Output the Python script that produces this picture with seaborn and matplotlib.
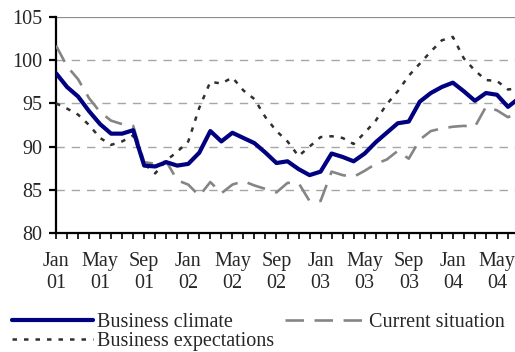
import matplotlib
matplotlib.use("Agg")
import matplotlib.pyplot as plt
import seaborn as sns
import pandas as pd
import numpy as np

# Monthly index values, Jan 2001 - Jul 2004
months = pd.date_range("2001-01-01", "2004-07-01", freq="MS")

business_climate = [
    98.5, 96.9, 95.8, 94.1, 92.6, 91.5, 91.5, 91.9, 87.8, 87.7, 88.2, 87.8,
    88.0, 89.3, 91.8, 90.6, 91.6, 91.0, 90.4, 89.3, 88.1, 88.3, 87.4, 86.7,
    87.1, 89.2, 88.8, 88.3, 89.2, 90.5, 91.6, 92.7, 92.9, 95.2, 96.2, 96.9,
    97.4, 96.4, 95.3, 96.2, 96.0, 94.6, 95.6,
]
current_situation = [
    101.7, 99.3, 97.8, 95.6, 94.0, 93.0, 92.6, 92.4, 88.2, 88.0, 88.3, 86.1,
    85.6, 84.3, 85.9, 84.6, 85.6, 86.0, 85.5, 85.1, 84.7, 85.8, 85.8, 83.7,
    83.7, 87.1, 86.7, 86.5, 87.2, 88.0, 88.5, 89.5, 88.6, 90.8, 91.8, 92.1,
    92.3, 92.4, 92.3, 94.6, 94.2, 93.4, 94.0,
]
business_expectations = [
    95.0, 94.4, 93.7, 92.5, 91.0, 90.2, 90.6, 91.3, 88.0, 86.9, 88.4, 89.4,
    90.6, 94.5, 97.5, 97.3, 98.0, 96.5, 95.5, 93.4, 91.8, 90.6, 88.9, 90.0,
    91.1, 91.2, 91.0, 90.3, 91.6, 93.0, 94.9, 96.4, 98.2, 99.6, 101.0, 102.3,
    102.7, 100.2, 98.8, 97.7, 97.6, 96.6, 96.8,
]

y_ticks = [80, 85, 90, 95, 100, 105]

FS = 14.5
sns.set_theme(style="white")
plt.rcParams["font.family"] = ["Liberation Serif", "DejaVu Serif"]
plt.rcParams["font.size"] = FS

W, H = 515, 352
fig = plt.figure(figsize=(W / 100, H / 100), dpi=100)
fig.patch.set_facecolor("white")

# plot area in pixel coordinates (left, top, right, bottom)
L, T, R, B = 56, 17, 519, 233
ax = fig.add_axes([L / W, 1 - B / H, (R - L) / W, (B - T) / H])

df = pd.DataFrame({
    "idx": np.arange(len(months)),
    "Business climate": business_climate,
    "Current situation": current_situation,
    "Business expectations": business_expectations,
})

# reference gridlines first so the series draw on top
for v in y_ticks[1:-1]:
    ax.axhline(v, color="#a6a6a6", lw=1.0, linestyle=(0, (6, 5)), zorder=1)
ax.axhline(105, color="#8c8c8c", lw=1.6, zorder=1)

sns.lineplot(data=df, x="idx", y="Current situation", ax=ax, color="#858585",
             lw=1.9, linestyle=(0, (7.0, 4.0)), label="Current situation", zorder=3)
sns.lineplot(data=df, x="idx", y="Business expectations", ax=ax, color="#303030",
             lw=1.8, linestyle=(0, (1.8, 2.8)), label="Business expectations", zorder=4)
sns.lineplot(data=df, x="idx", y="Business climate", ax=ax, color="#000080",
             lw=3.0, label="Business climate", zorder=5)

ax.set_xlim(0, len(months) - 1)
ax.set_ylim(80, 105)
ax.set_yticks(y_ticks)
ax.set_yticklabels([str(v) for v in y_ticks])

xlabels = [f"{d.strftime('%b')}\n{d.strftime('%y')}" if i % 4 == 0 else ""
           for i, d in enumerate(months)]
ax.set_xticks(np.arange(len(months)))
ax.set_xticklabels(xlabels, linespacing=1.15)
ax.set_xlabel("")
ax.set_ylabel("")

for side in ["top", "right"]:
    ax.spines[side].set_visible(False)
for side in ["left", "bottom"]:
    ax.spines[side].set_color("black")
    ax.spines[side].set_linewidth(1.6)
ax.tick_params(axis="y", which="major", direction="out", length=5, width=1.6,
               color="black", pad=5, left=True, labelsize=FS)
ax.tick_params(axis="x", which="major", direction="out", length=4, width=1.2,
               color="black", pad=10, bottom=True, labelsize=FS)
ax.grid(False)

# legend below the plot, two columns
handles, labels = ax.get_legend_handles_labels()
order = [labels.index(n) for n in ["Business climate", "Business expectations", "Current situation"]]
ax.get_legend().remove()
fig.legend([handles[i] for i in order], [labels[i] for i in order],
           loc="upper left", bbox_to_anchor=(12 / W, 1 - 313 / H), ncol=2,
           frameon=False, borderpad=0, borderaxespad=0, handlelength=4.0,
           handletextpad=0.2, columnspacing=0.55, labelspacing=0.0,
           fontsize=FS)

fig.savefig("out.png", dpi=100, facecolor="white")
